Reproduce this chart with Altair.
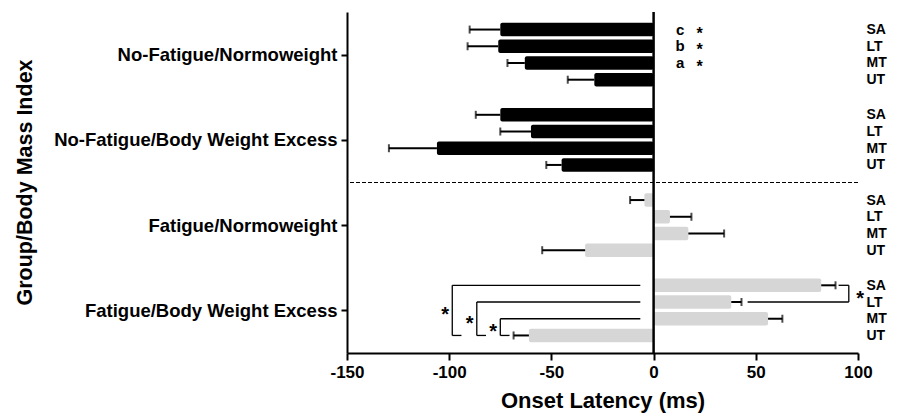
import json
import altair as alt
import pandas as pd

# ---------------- data ----------------
groups = ["No-Fatigue/Normoweight", "No-Fatigue/Body Weight Excess",
          "Fatigue/Normoweight", "Fatigue/Body Weight Excess"]
fatigue = ["No-Fatigue", "No-Fatigue", "Fatigue", "Fatigue"]
muscles = ["SA", "LT", "MT", "UT"]

nf_normo = [-75, -76, -63, -29]
nf_normo_sem = [15, 15, 8.5, 13]
nf_excess = [-75, -60, -106, -45]
nf_excess_sem = [12, 15, 23.5, 7.5]
f_normo = [-4.5, 8, 17, -33.5]
f_normo_sem = [7, 10.5, 17.5, 21]
f_excess = [82, 38, 56, -61]
f_excess_sem = [7, 5, 7, 7.5]

means = [nf_normo, nf_excess, f_normo, f_excess]
sems = [nf_normo_sem, nf_excess_sem, f_normo_sem, f_excess_sem]

x_ticks = [-150, -100, -50, 0, 50, 100]

# significance annotations
letters = ["c", "b", "a"]            # No-Fatigue/Normoweight SA, LT, MT
left_brackets_from = ["SA", "LT", "MT"]   # Fatigue/BWE, each vs UT
right_bracket = ["SA", "LT"]               # Fatigue/BWE SA vs LT

# ---------------- layout ----------------
GROUP_STEP = 5.1
HALF = 0.4
FONT = "Liberation Sans"

rows = []
for g, grp in enumerate(groups):
    for i, m in enumerate(muscles):
        v = means[g][i]
        e = sems[g][i]
        s = 1 if v >= 0 else -1
        pos = g * GROUP_STEP + i
        rows.append(dict(group=grp, fatigue=fatigue[g], muscle=m, pos=pos,
                         top=pos - HALF, bot=pos + HALF, value=v, zero=0,
                         err_end=v + s * e))
df = pd.DataFrame(rows)

def rowpos(g, m):
    return g * GROUP_STEP + muscles.index(m)

y_dom = [-1.05, 3 * GROUP_STEP + 3 + 1.05]
yscale = alt.Scale(domain=y_dom, reverse=True, nice=False, zero=False)
xscale = alt.Scale(domain=[-150, 100], nice=False, zero=False)

x_axis = alt.Axis(values=x_ticks, title="Onset Latency (ms)", grid=False,
                  labelExpr="toString(datum.value)",
                  domainColor="black", domainWidth=2, tickColor="black",
                  tickWidth=2, tickSize=7, labelFont=FONT, labelFontWeight="bold",
                  labelFontSize=17, labelColor="black", labelPadding=4,
                  labelFlush=False, titleFont=FONT, titleFontWeight="bold",
                  titleFontSize=22, titleColor="black", titlePadding=10)

group_centers = [g * GROUP_STEP + 1.5 for g in range(4)]
left_axis = alt.Axis(values=group_centers,
                     labelExpr=json.dumps(groups) + f"[round((datum.value-1.5)/{GROUP_STEP})]",
                     title="Group/Body Mass Index", grid=False,
                     domainColor="black", domainWidth=2, tickColor="black",
                     tickWidth=2, tickSize=6, labelFont=FONT, labelFontWeight="bold",
                     labelFontSize=18.5, labelColor="black", labelPadding=4,
                     labelLimit=0,
                     titleFont=FONT, titleFontWeight="bold", titleFontSize=21.5,
                     titleColor="black", titleX=-322, titleY=170,
                     titleBaseline="middle", titleAngle=270, labelOverlap=False)

right_axis = alt.Axis(orient="right", values=df["pos"].tolist(),
                      labelExpr=json.dumps(muscles) +
                      f"[round(datum.value - {GROUP_STEP}*floor((datum.value+0.5)/{GROUP_STEP}))]",
                      title=None, domain=False, ticks=False, grid=False,
                      labelFont=FONT, labelFontWeight="bold", labelFontSize=14,
                      labelColor="black", labelPadding=8, labelAlign="left",
                      labelOverlap=False, labelBound=False)

bars = alt.Chart(df).mark_bar(cornerRadius=2).encode(
    x=alt.X("value:Q", scale=xscale, axis=x_axis),
    x2="zero:Q",
    y=alt.Y("top:Q", scale=yscale, axis=left_axis),
    y2="bot:Q",
    color=alt.Color("fatigue:N", scale=alt.Scale(domain=["No-Fatigue", "Fatigue"],
                                                 range=["#000000", "#d6d6d6"]),
                    legend=None),
)

right_labels = alt.Chart(df).mark_point(opacity=0).encode(
    x=alt.X("value:Q", scale=xscale, axis=x_axis),
    y=alt.Y("pos:Q", scale=yscale, axis=right_axis),
)

sep = (rowpos(1, "UT") + rowpos(2, "SA")) / 2
dashed = alt.Chart(pd.DataFrame({"y": [sep]})).mark_rule(
    color="black", strokeWidth=1.2, strokeDash=[4, 2]).encode(
    y=alt.Y("y:Q", scale=yscale, axis=None))

zero_line = alt.Chart(pd.DataFrame({"x": [0]})).mark_rule(
    color="black", strokeWidth=2.5).encode(
    x=alt.X("x:Q", scale=xscale, axis=x_axis))

err_line = alt.Chart(df).mark_rule(color="black", strokeWidth=2).encode(
    x=alt.X("value:Q", scale=xscale, axis=x_axis),
    x2="err_end:Q",
    y=alt.Y("pos:Q", scale=yscale, axis=None),
)
err_cap = alt.Chart(df).mark_tick(color="black", orient="vertical", size=8,
                                  thickness=2).encode(
    x=alt.X("err_end:Q", scale=xscale, axis=x_axis),
    y=alt.Y("pos:Q", scale=yscale, axis=None),
)

# brackets
segs = []
stars_big = []
bx = [-98.5, -86.5, -75.0]
ut = rowpos(3, "UT")
for k, m in enumerate(left_brackets_from):
    r = rowpos(3, m)
    segs += [dict(x=bx[k], x2=-6.5, y=r, y2=r),
             dict(x=bx[k], x2=bx[k], y=r, y2=ut),
             dict(x=bx[k], x2=bx[k] + 4.5, y=ut, y2=ut)]
    stars_big.append(dict(x=bx[k] - 3.5, y=(r + ut) / 2))
ra, rb = rowpos(3, right_bracket[0]), rowpos(3, right_bracket[1])
segs += [dict(x=90.5, x2=95.5, y=ra, y2=ra),
         dict(x=95.5, x2=95.5, y=ra, y2=rb),
         dict(x=46, x2=95.5, y=rb, y2=rb)]
stars_big.append(dict(x=101, y=(ra + rb) / 2))
stars_small = [dict(x=22.5, y=rowpos(0, muscles[k])) for k in range(3)]
seg_df = pd.DataFrame(segs)

brackets = alt.Chart(seg_df).mark_rule(color="black", strokeWidth=1.3).encode(
    x=alt.X("x:Q", scale=xscale, axis=x_axis), x2="x2:Q",
    y=alt.Y("y:Q", scale=yscale, axis=None), y2="y2:Q")

star_big_text = alt.Chart(pd.DataFrame(stars_big)).mark_text(
    text="*", font=FONT, fontWeight="bold", fontSize=20, color="black",
    baseline="alphabetic", dy=11).encode(
    x=alt.X("x:Q", scale=xscale, axis=x_axis),
    y=alt.Y("y:Q", scale=yscale, axis=None))

star_small_text = alt.Chart(pd.DataFrame(stars_small)).mark_text(
    text="*", font=FONT, fontWeight="bold", fontSize=16, color="black",
    baseline="alphabetic", dy=9).encode(
    x=alt.X("x:Q", scale=xscale, axis=x_axis),
    y=alt.Y("y:Q", scale=yscale, axis=None))

letter_df = pd.DataFrame({"label": letters,
                          "y": [rowpos(0, m) for m in muscles[:3]],
                          "x": [13] * 3})
letter_text = alt.Chart(letter_df).mark_text(
    font=FONT, fontWeight="bold", fontSize=15, color="black",
    baseline="middle").encode(
    x=alt.X("x:Q", scale=xscale, axis=x_axis),
    y=alt.Y("y:Q", scale=yscale, axis=None),
    text="label:N")

chart = alt.layer(bars, right_labels, dashed, err_line, err_cap, zero_line,
                  brackets, star_big_text, star_small_text, letter_text).resolve_axis(
    y="independent").properties(
    width=511, height=341,
    autosize=alt.AutoSizeParams(type="none"),
    padding={"left": 339, "top": 4, "right": 42, "bottom": 62},
).configure_view(stroke=None)

chart.save("out.html", embed_options={"renderer": "svg", "actions": False})
